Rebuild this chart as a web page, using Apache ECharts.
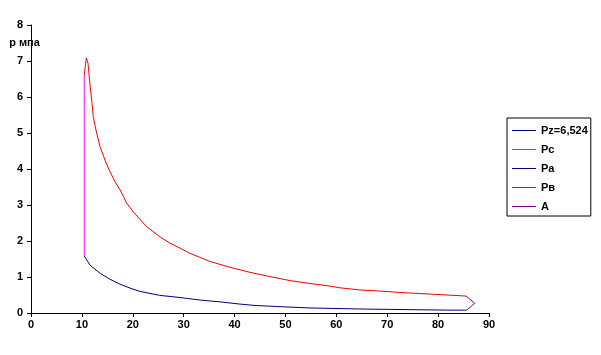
<!DOCTYPE html>
<html>
<head>
<meta charset="utf-8">
<script src="https://cdn.jsdelivr.net/npm/echarts@6/dist/echarts.min.js"></script>
<style>html,body{margin:0;padding:0;background:#fff}#c{width:601px;height:355px}</style>
</head>
<body>
<div id="c"></div>
<script>
var seriesNames = ['Pz=6,524', 'Pc', 'Pa', 'Pв', 'A'];
var xTicks = [0, 90, 10];
var yTicks = [0, 8, 1];
var yName = 'р мпа';

var pzData = [[10.5, 6.524]];
var pcData = [[10.47, 1.58], [10.47, 6.62]];
var paData = [[10.47, 1.58], [11.6, 1.33], [13.6, 1.10], [15.5, 0.94], [17.5, 0.80], [19.5, 0.69], [21.4, 0.60], [25.3, 0.49], [29.3, 0.43], [33.2, 0.36], [37.1, 0.31], [40.9, 0.25], [44.0, 0.21], [48.3, 0.18], [54.8, 0.14], [65.3, 0.11], [70.5, 0.10], [81.7, 0.08], [85.6, 0.08]];
var pvData = [[10.47, 6.62], [10.87, 7.08], [11.2, 6.94], [11.6, 6.33], [12.0, 5.82], [12.24, 5.45], [12.77, 5.08], [13.56, 4.62], [14.54, 4.25], [15.5, 3.93], [16.5, 3.65], [17.5, 3.42], [18.8, 3.05], [20.1, 2.81], [22.7, 2.40], [25.3, 2.12], [27.3, 1.94], [29.3, 1.80], [31.2, 1.66], [35.2, 1.43], [39.1, 1.27], [43.0, 1.13], [47.0, 1.01], [50.9, 0.90], [54.8, 0.82], [58.6, 0.75], [60.7, 0.70], [64.6, 0.64], [68.6, 0.61], [72.5, 0.57], [76.4, 0.54], [80.4, 0.51], [84.3, 0.48], [85.5, 0.47]];
var aData = [[85.5, 0.47], [87.2, 0.27], [85.6, 0.08]];

var colors = ['#000080', '#FF00FF', '#000080', '#FF0000', '#800080'];
var allData = [pzData, pcData, paData, pvData, aData];

var font = '"Liberation Sans", Arial, sans-serif';
var chart = echarts.init(document.getElementById('c'), null, {renderer: 'canvas'});
var series = seriesNames.map(function (n, i) {
  return {
    name: n, type: 'line', data: allData[i], symbol: 'none', showSymbol: false,
    smooth: false, animation: false, color: colors[i],
    lineStyle: {color: colors[i], width: 1}, itemStyle: {color: colors[i]}
  };
});
var legendData = seriesNames.map(function (n, i) {
  return {name: n, icon: 'rect', itemStyle: {color: colors[i], opacity: 1}};
});
chart.setOption({
  animation: false,
  backgroundColor: '#fff',
  color: colors,
  grid: {left: 31, right: 112, top: 25, bottom: 42, containLabel: false},
  xAxis: {
    type: 'value', min: xTicks[0], max: xTicks[1], interval: xTicks[2],
    axisLine: {lineStyle: {color: '#000', width: 1}},
    axisTick: {length: 4, lineStyle: {color: '#000'}},
    axisLabel: {color: '#000', fontFamily: font, fontWeight: 'bold', fontSize: 11, margin: 6},
    splitLine: {show: false}
  },
  yAxis: {
    type: 'value', min: yTicks[0], max: yTicks[1], interval: yTicks[2],
    name: yName, nameLocation: 'end', nameGap: -23,
    nameTextStyle: {color: '#000', fontFamily: font, fontWeight: 'bold', fontSize: 11, align: 'center', padding: [0, 13, 0, 0]},
    axisLine: {show: true, lineStyle: {color: '#000', width: 1}},
    axisTick: {show: true, length: 4, lineStyle: {color: '#000'}},
    axisLabel: {color: '#000', fontFamily: font, fontWeight: 'bold', fontSize: 11, margin: 8},
    splitLine: {show: false}
  },
  legend: {
    orient: 'vertical', left: 507, top: 118,
    padding: [7, 3, 4, 5], itemGap: 8, itemWidth: 24, itemHeight: 1,
    borderColor: '#000', borderWidth: 1,
    textStyle: {color: '#000', fontFamily: font, fontWeight: 'bold', fontSize: 11, lineHeight: 11},
    data: legendData
  },
  series: series
});
</script>
</body>
</html>
